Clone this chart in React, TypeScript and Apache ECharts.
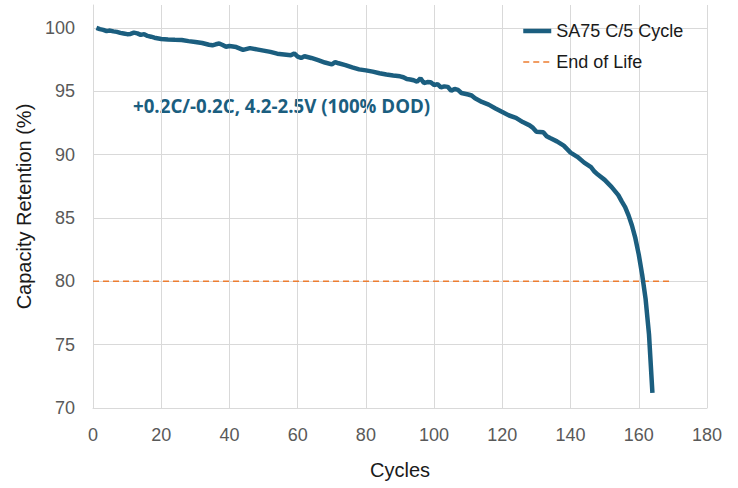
import React, { useEffect, useRef } from "react";
import * as echarts from "echarts";

const cycles = [1,2,3,4,5,6,7,8,9,10,11,12,13,14,15,16,17,18,20,22,24,26,28,30,32,34,35,36,37,38,39,40,42,44,46,48,50,52,54,56,58,59,60,61,62,64,66,68,70,71,72,74,76,78,80,82,84,86,88,90,91,92,93,94,95,96,97,98,99,100,101,102,103,104,105,106,107,108,110,111,112,114,116,118,120,122,124,126,128,129,130,132,133,134,136,138,140,142,144,146,147,148,150,152,154,155,156,157,158,159,160,161,162,163,164];
const retention = [100.0,99.9,99.84,99.74,99.78,99.72,99.68,99.6,99.55,99.5,99.52,99.62,99.56,99.44,99.5,99.36,99.3,99.22,99.12,99.08,99.05,99.04,98.95,98.88,98.8,98.66,98.62,98.7,98.76,98.64,98.5,98.56,98.48,98.26,98.4,98.3,98.2,98.1,97.96,97.9,97.84,97.98,97.72,97.62,97.76,97.62,97.45,97.26,97.12,97.3,97.2,97.06,96.88,96.72,96.64,96.54,96.42,96.32,96.24,96.17,96.1,95.96,95.92,95.86,95.74,96.02,95.64,95.72,95.7,95.48,95.56,95.3,95.38,95.34,95.04,95.18,95.1,94.86,94.74,94.66,94.44,94.15,93.94,93.64,93.36,93.08,92.9,92.56,92.3,92.1,91.8,91.76,91.45,91.3,91.04,90.7,90.15,89.82,89.36,89.0,88.66,88.42,88.0,87.45,86.8,86.3,85.85,85.2,84.4,83.4,82.1,80.5,78.6,75.8,71.2];
const eolCycles = [0, 170];
const eolValues = [80, 80];
const seriesNames = ["SA75 C/5 Cycle", "End of Life"];
const annotation = "+0.2C/-0.2C, 4.2-2.5V (100% DOD)";
const xTitle = "Cycles";
const yTitle = "Capacity Retention (%)";

export default function App() {
  const ref = useRef<HTMLDivElement>(null);
  useEffect(() => {
    document.body.style.margin = "0";
    if (!ref.current) return;
    const chart = echarts.init(ref.current, null, { renderer: "svg" });
    const font = "'Liberation Sans', Arial, sans-serif";
    const grid = "#d9d9d9";
    chart.setOption({
      animation: false,
      backgroundColor: "#ffffff",
      grid: { left: 93, right: 31, top: 5, bottom: 80 },
      legend: {
        orient: "vertical",
        left: 516,
        top: 17,
        itemWidth: 28,
        itemHeight: 14,
        itemGap: 13,
        data: seriesNames,
        textStyle: { fontFamily: font, fontSize: 18, color: "#1a1a1a" },
        lineStyle: { width: "inherit" },
        itemStyle: { color: "rgba(0,0,0,0)", borderWidth: 0 },
      },
      xAxis: {
        type: "value",
        min: 0,
        max: 180,
        interval: 20,
        name: xTitle,
        nameLocation: "middle",
        nameGap: 52,
        nameTextStyle: { fontFamily: font, fontSize: 20, color: "#1a1a1a" },
        axisLine: { show: true, lineStyle: { color: grid, width: 1 } },
        axisTick: { show: false },
        axisLabel: { fontFamily: font, fontSize: 18, color: "#595959", margin: 18 },
        splitLine: { show: true, lineStyle: { color: grid, width: 1 } },
      },
      yAxis: {
        type: "value",
        min: 70,
        max: 101.8,
        interval: 5,
        name: yTitle,
        nameLocation: "middle",
        nameGap: 57,
        nameTextStyle: { fontFamily: font, fontSize: 20, color: "#1a1a1a" },
        axisLine: { show: true, lineStyle: { color: grid, width: 1 } },
        axisTick: { show: false },
        axisLabel: {
          fontFamily: font,
          fontSize: 18,
          color: "#595959",
          margin: 18,
          formatter: (v: number) => (v % 5 === 0 ? String(v) : ""),
        },
        splitLine: {
          show: true,
          lineStyle: {
            color: [grid, grid, grid, grid, grid, grid, grid, "rgba(0,0,0,0)"],
            width: 1,
          },
        },
      },
      graphic: [
        {
          type: "text",
          left: 133,
          top: 96,
          style: {
            text: annotation,
            fontFamily: "'Open Sans', sans-serif",
            fontWeight: 700,
            fontSize: 18.7,
            fill: "#1b5e7f",
          },
        },
      ],
      series: [
        {
          name: seriesNames[0],
          type: "line",
          data: cycles.map((c, i) => [c, retention[i]]),
          symbol: "none",
          lineStyle: { color: "#1b5e7f", width: 4.5 },
          itemStyle: { color: "#1b5e7f" },
          z: 3,
        },
        {
          name: seriesNames[1],
          type: "line",
          data: eolCycles.map((c, i) => [c, eolValues[i]]),
          symbol: "none",
          lineStyle: { color: "#ed7d31", width: 1.5, type: [6, 4] },
          itemStyle: { color: "#ed7d31" },
          z: 2,
        },
      ],
    });
    return () => chart.dispose();
  }, []);
  return <div ref={ref} style={{ width: 738, height: 488 }} />;
}
